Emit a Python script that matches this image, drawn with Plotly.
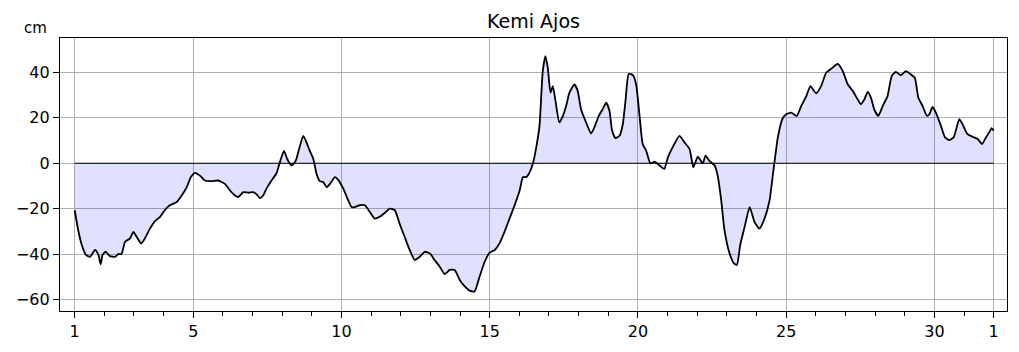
import plotly.graph_objects as go

title_text = "Kemi Ajos"
unit_label = "cm"

# time in days of month (32 = 1st of next month), sea level in cm
days = [1.00, 1.12, 1.24, 1.38, 1.52, 1.69, 1.80, 1.88, 1.94, 2.04, 2.19, 2.36, 2.47, 2.58, 2.70,
        2.87, 2.98, 3.09, 3.24, 3.37, 3.54, 3.71, 3.88, 4.04, 4.21, 4.44, 4.61, 4.78, 4.92, 5.06,
        5.22, 5.39, 5.62, 5.84,
        6.07, 6.24, 6.41, 6.52, 6.69, 6.86, 7.02, 7.14, 7.25, 7.36, 7.47, 7.64, 7.81, 7.92, 8.06,
        8.17, 8.32, 8.46, 8.57, 8.71, 8.82, 8.93, 9.05, 9.16, 9.27, 9.38, 9.50, 9.61, 9.78, 9.89,
        10.06, 10.23, 10.34, 10.45, 10.62, 10.79, 10.96, 11.12, 11.29, 11.46,
        11.63, 11.80, 11.96, 12.13, 12.30, 12.47, 12.64, 12.81, 12.98, 13.14, 13.31, 13.48, 13.65,
        13.82, 13.99, 14.16, 14.32, 14.49, 14.66, 14.83, 15.00, 15.17, 15.33, 15.50, 15.67, 15.84,
        16.01, 16.12, 16.23, 16.35, 16.46, 16.57,
        16.68, 16.79, 16.88, 16.96, 17.05, 17.13, 17.22, 17.35, 17.47, 17.58, 17.69, 17.86, 17.97,
        18.08, 18.25, 18.42, 18.53, 18.68, 18.81, 18.93, 19.04, 19.13, 19.24, 19.38, 19.49, 19.58,
        19.69, 19.83, 19.94, 20.05, 20.16, 20.28, 20.42, 20.56, 20.73, 20.89, 21.01, 21.17, 21.40,
        21.57, 21.74, 21.87, 22.02,
        22.19, 22.28, 22.42, 22.59, 22.70, 22.81, 22.92, 23.09, 23.24, 23.34, 23.45, 23.60, 23.77,
        23.93, 24.10, 24.27, 24.44, 24.57, 24.72, 24.87, 25.00, 25.17, 25.36, 25.51, 25.68, 25.82,
        26.01, 26.18, 26.35, 26.55, 26.74, 26.91, 27.08, 27.25,
        27.41, 27.52, 27.64, 27.75, 27.86, 27.97, 28.11, 28.26, 28.42, 28.56, 28.70, 28.87, 29.04,
        29.21, 29.34, 29.46, 29.60, 29.75, 29.83, 29.94, 30.05, 30.22, 30.36, 30.50, 30.65, 30.84,
        30.95, 31.12, 31.29, 31.46, 31.61, 31.74, 31.85, 31.93, 32.00]

level_cm = [-20.7, -29.5, -36.0, -40.4, -41.2, -38.2, -40.4, -44.5, -40.4, -39.0, -40.9, -41.2, -40.0, -40.0, -34.6,
            -33.1, -30.2, -32.4, -35.3, -33.1, -28.8, -25.5, -23.6, -20.7, -18.5, -17.1, -14.2, -10.5, -6.1, -4.2,
            -5.4, -7.6, -7.9, -7.6,
            -9.1, -12.0, -14.2, -14.9, -12.7, -13.0, -12.7, -13.7, -15.3, -14.2, -11.2, -7.6, -4.4, 0.4, 5.5,
            1.9, -1.0, 1.2, 6.3, 12.1, 9.2, 5.5, 1.9, -4.7, -7.9, -8.3, -10.5, -9.1, -6.1, -7.3,
            -11.2, -16.4, -19.3, -19.3, -18.5, -18.5, -21.5, -24.4, -23.6, -21.9,
            -20.0, -20.7, -26.6, -32.4, -38.2, -42.6, -41.2, -39.0, -39.7, -42.6, -45.5, -48.8, -47.0,
            -47.0, -51.4, -54.3, -56.1, -56.5, -49.9, -43.4, -39.4, -38.2, -35.3, -30.2, -24.4, -18.5,
            -12.0, -6.1, -6.1, -3.9, 0.0, 7.0,
            16.5, 40.6, 47.2, 42.0, 31.1, 34.0, 27.4, 18.0, 20.9, 25.3, 31.1, 34.7, 31.8,
            23.8, 18.0, 13.1, 15.8, 20.9, 23.8, 26.7, 23.1, 14.3, 11.1, 12.1, 17.2, 27.4,
            39.4, 38.8, 34.7, 21.6, 8.5, 5.5, 0.0, 0.7, -1.0, -2.5, 2.6, 7.0, 12.1,
            9.2, 6.3, -1.8, 2.9,
            0.0, 3.4, 0.9, -1.0, -6.1, -16.4, -29.5, -39.7, -44.1, -44.8, -36.0, -28.0, -19.3,
            -25.8, -28.8, -24.4, -16.4, -3.2, 11.4, 19.4, 21.6, 22.3, 20.9, 25.3, 29.6, 34.0,
            30.8, 34.0, 39.9, 42.0, 43.8, 40.6, 34.7, 31.8,
            28.2, 26.0, 28.2, 31.5, 28.9, 23.8, 20.9, 25.3, 29.6, 38.4, 40.3, 38.8, 40.6,
            39.1, 37.7, 28.9, 25.3, 20.9, 21.6, 24.8, 22.3, 16.5, 11.4, 10.2, 11.4, 19.4,
            17.2, 12.8, 11.7, 10.7, 8.5, 11.4, 13.6, 15.5, 14.3]

x_tickvals = [1, 5, 10, 15, 20, 25, 30, 32]
x_ticktext = ["1", "5", "10", "15", "20", "25", "30", "1"]
y_tickvals = [-60, -40, -20, 0, 20, 40]

FONT = "DejaVu Sans"

fig = go.Figure()
fig.add_trace(go.Scatter(
    x=days, y=level_cm, mode="lines",
    line=dict(color="black", width=1.8, shape="spline", smoothing=0.5),
    fill="tozeroy", fillcolor="rgba(0,0,255,0.12)",
    hoverinfo="skip", showlegend=False,
))

fig.add_shape(type="line", xref="x", yref="y",
              x0=days[0], x1=days[-1], y0=0, y1=0,
              line=dict(color="black", width=1.2), layer="above")

fig.update_layout(
    width=1019, height=352,
    margin=dict(l=60, r=11, t=38, b=39),
    paper_bgcolor="white", plot_bgcolor="white",
    font=dict(family=FONT, size=16, color="black"),
    title=dict(text=title_text, x=0.5, xref="paper", xanchor="center",
               y=1 - 21 / 352, yref="container", yanchor="middle",
               font=dict(family=FONT, size=19, color="black")),
    annotations=[dict(text=unit_label, xref="paper", yref="paper",
                      x=(35 - 60) / 948, y=1 + 10 / 275,
                      xanchor="center", yanchor="middle", showarrow=False,
                      font=dict(family=FONT, size=15, color="black"))],
)

fig.update_xaxes(
    range=[0.505, 32.45],
    tickmode="array", tickvals=x_tickvals, ticktext=x_ticktext,
    ticks="outside", ticklen=6, tickwidth=1, tickcolor="black",
    showgrid=True, gridcolor="#b0b0b0", gridwidth=1.2,
    showline=True, linecolor="black", linewidth=1.2, mirror=True,
    zeroline=False,
    minor=dict(tickmode="linear", tick0=1, dtick=1, ticks="outside",
               ticklen=3.5, tickwidth=1, tickcolor="black", showgrid=False),
    tickfont=dict(family=FONT, size=16, color="black"),
)
fig.update_yaxes(
    range=[-65.1, 55.2],
    tickmode="array", tickvals=y_tickvals,
    ticks="outside", ticklen=6, tickwidth=1, tickcolor="black",
    showgrid=True, gridcolor="#b0b0b0", gridwidth=1.2,
    showline=True, linecolor="black", linewidth=1.2, mirror=True,
    zeroline=False,
    tickfont=dict(family=FONT, size=16, color="black"),
)

fig.write_html("out.html")
